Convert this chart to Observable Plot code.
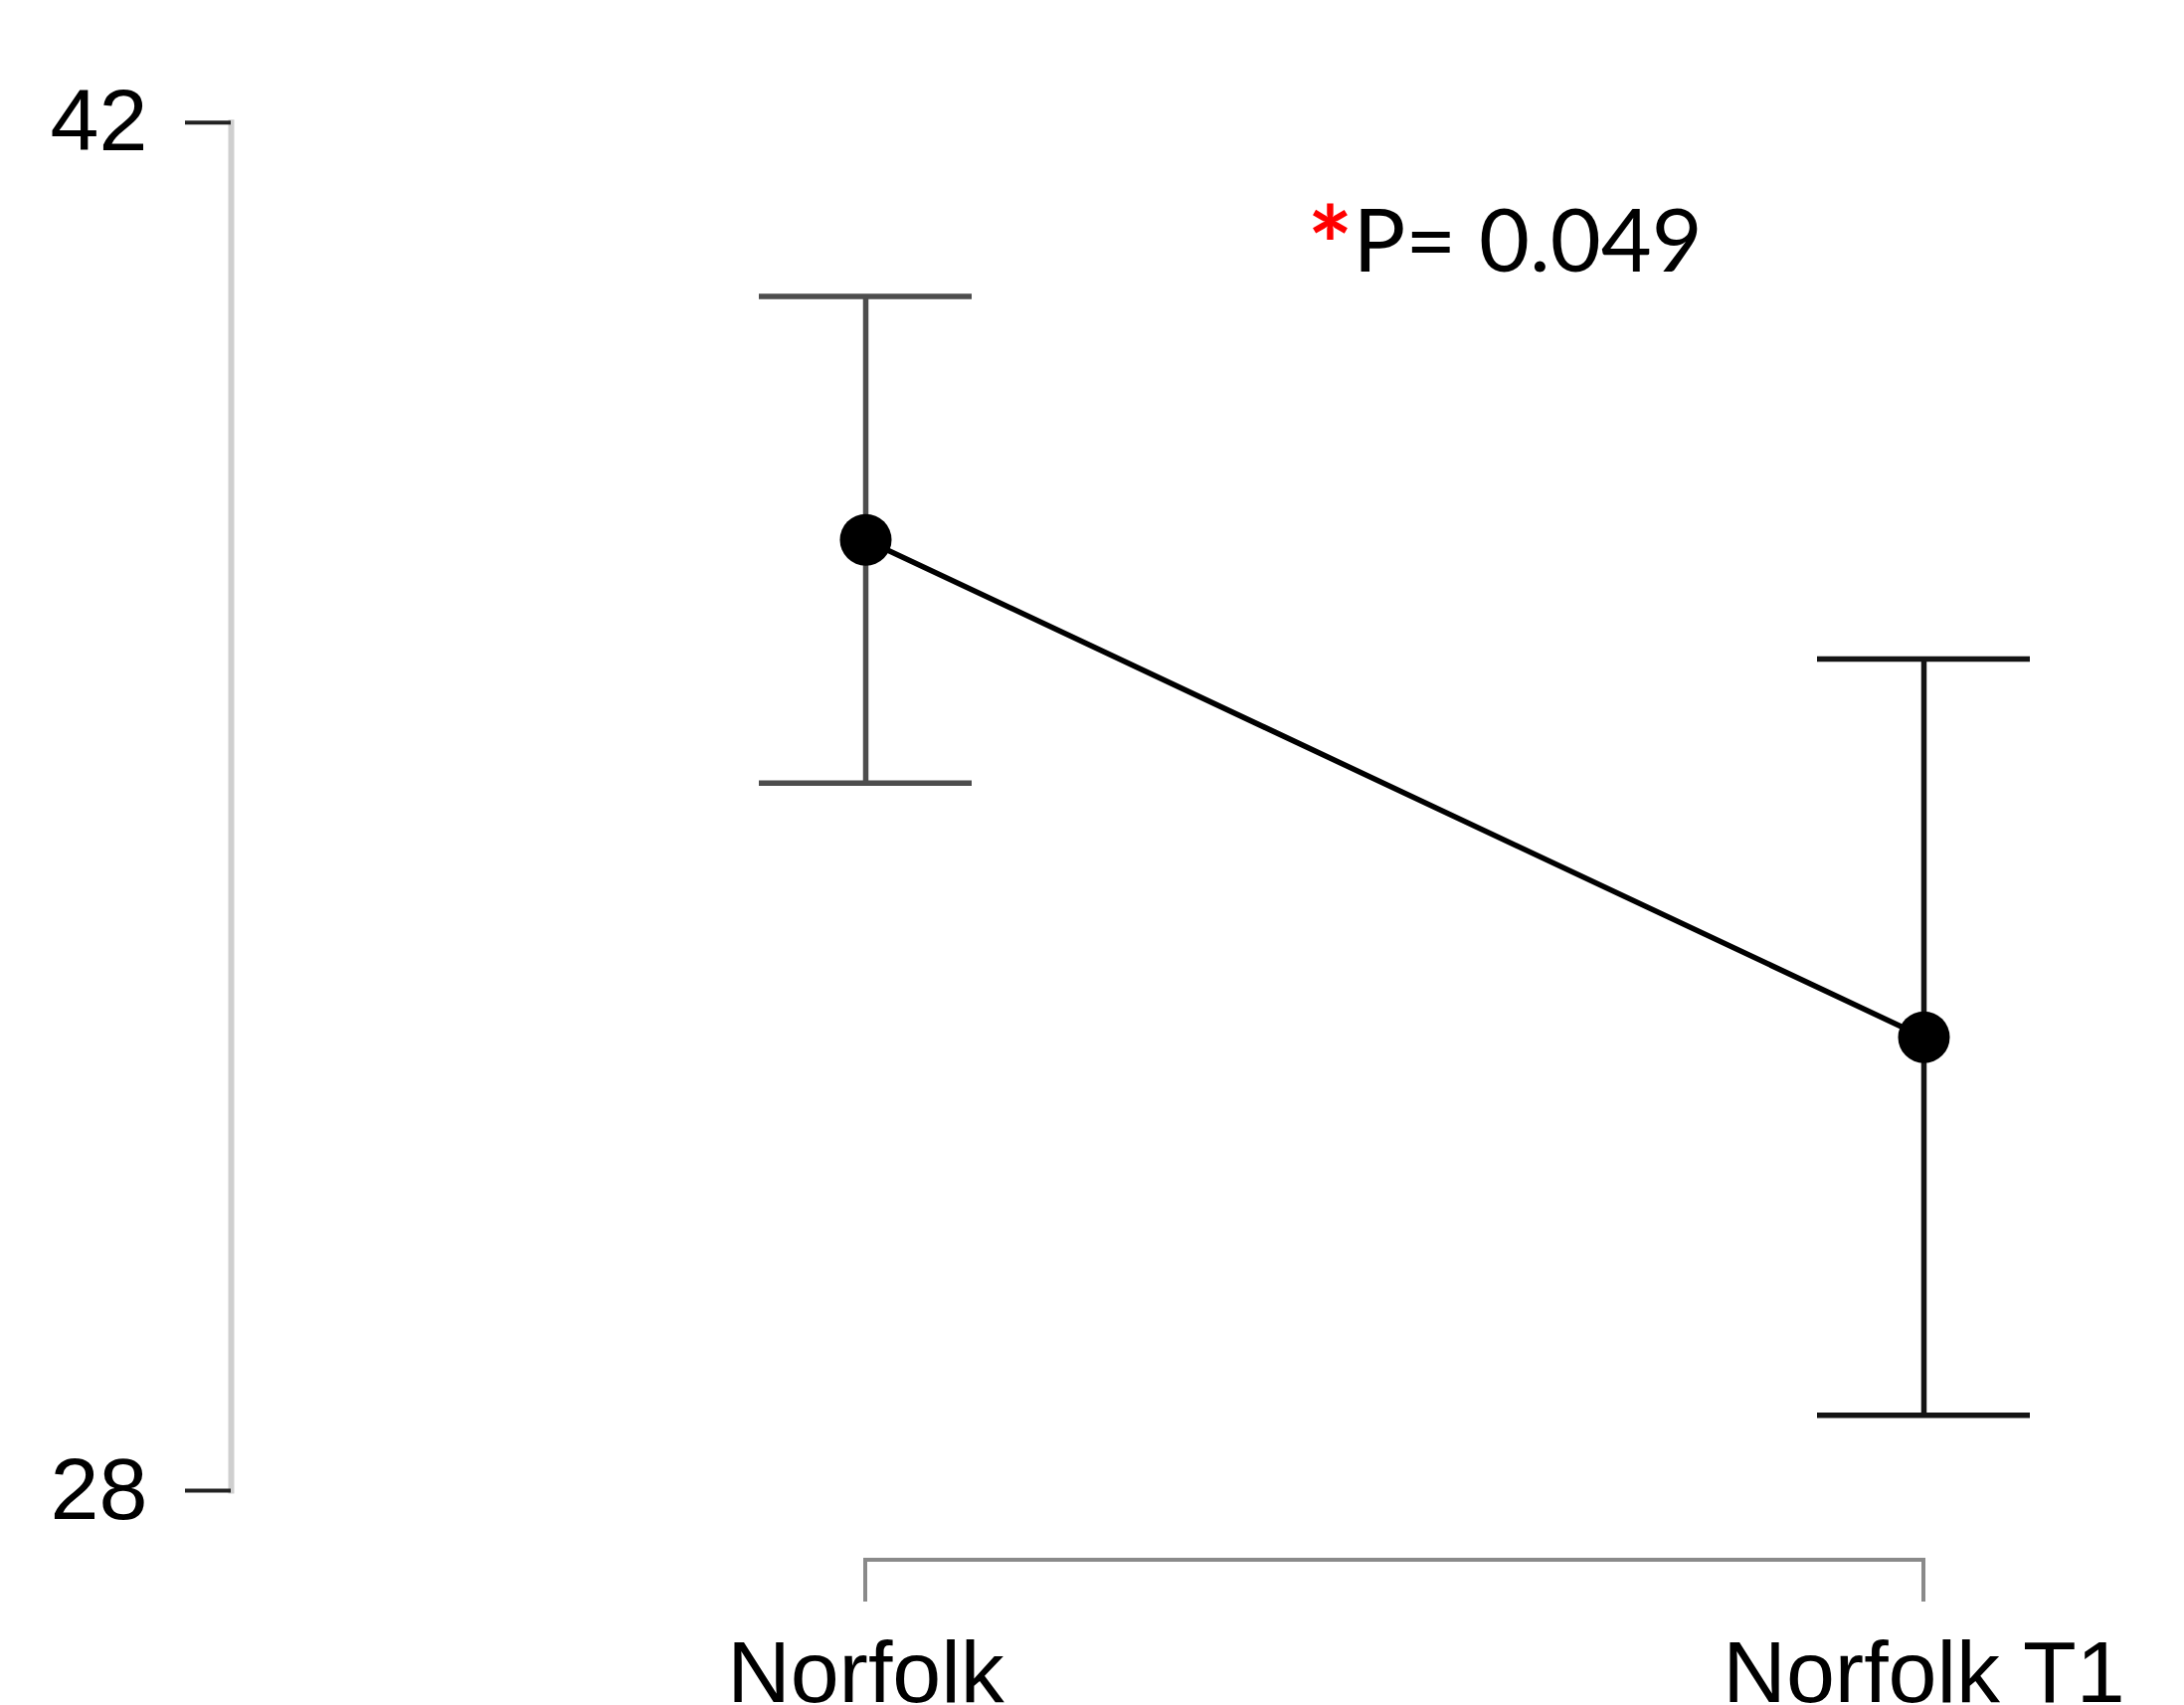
<!DOCTYPE html>
<html>
<head>
<meta charset="utf-8">
<script src="https://cdn.jsdelivr.net/npm/d3@7"></script>
<script src="https://cdn.jsdelivr.net/npm/@observablehq/plot@0.6"></script>
<style>
  html, body { margin: 0; padding: 0; background: #fff; }
  #chart svg { display: block; }
</style>
</head>
<body>
<div id="chart"></div>
<script>
// ---- data ----
const categories = ["Norfolk", "Norfolk T1"];
const means = [37.73, 32.64];
const errors = [2.49, 3.87];
const yTicks = [28, 42];
const annotationStar = "*";
const annotationText = "P= 0.049";

const rows = categories.map((c, i) => ({cat: c, mean: means[i], lo: means[i] - errors[i], hi: means[i] + errors[i]}));
const barStroke = d => d.cat === categories[0] ? "#4d4d4d" : "#141414";

const W = 2196, H = 1714;
const chart = Plot.plot({
  width: W,
  height: H,
  marginLeft: 232,
  marginRight: 262,
  marginTop: 122.7,
  marginBottom: 216,
  style: {fontFamily: "'Liberation Sans', Arial, sans-serif", fontSize: "88px", background: "#fff", color: "#000"},
  x: {type: "point", domain: categories, range: [870, 1934], padding: 0, axis: null, label: null},
  y: {domain: [28, 42], axis: null, label: null},
  marks: [
    Plot.frame({anchor: "left", stroke: "#cfcfcf", strokeWidth: 6}),
    Plot.axisY({ticks: yTicks, tickSize: 46, tickPadding: 38, stroke: "#222", strokeWidth: 4, fontSize: 88, label: null, tickFormat: d => String(d)}),
    Plot.axisX({tickSize: 0, tickPadding: 150, fontSize: 88, label: null}),
    Plot.ruleX(rows, {x: "cat", y1: "lo", y2: "hi", stroke: barStroke, strokeWidth: 5.5}),
    Plot.ruleY(rows, {x1: "cat", x2: "cat", y: "hi", stroke: barStroke, strokeWidth: 5.5, insetLeft: -107, insetRight: -107}),
    Plot.ruleY(rows, {x1: "cat", x2: "cat", y: "lo", stroke: barStroke, strokeWidth: 5.5, insetLeft: -107, insetRight: -107}),
    Plot.line(rows, {x: "cat", y: "mean", stroke: "#000", strokeWidth: 5.5}),
    Plot.dot(rows, {x: "cat", y: "mean", r: 26, fill: "#000", stroke: "none"}),
    Plot.text([annotationStar], {text: d => d, frameAnchor: "top-left", textAnchor: "start", lineAnchor: "middle", dx: 1082, dy: 128, fill: "#ff0000", fontSize: 108, fontWeight: "bold", fontFamily: "Lato, 'Open Sans', sans-serif"}),
    Plot.text([annotationText], {text: d => d, frameAnchor: "top-left", textAnchor: "start", lineAnchor: "middle", dx: 1128, dy: 122, fill: "#000", fontSize: 88, fontFamily: "Lato, 'Open Sans', sans-serif"})
  ]
});

// x-axis bracket drawn from the plot's own scales
const xs = chart.scale("x"), ys = chart.scale("y");
const x0 = xs.apply(categories[0]), x1 = xs.apply(categories[categories.length - 1]);
const yb = ys.apply(ys.domain[0]) + 70;
d3.select(chart).append("path")
  .attr("d", `M${x0},${yb + 42}V${yb}H${x1}V${yb + 42}`)
  .attr("fill", "none").attr("stroke", "#8a8a8a").attr("stroke-width", 4);

document.getElementById("chart").appendChild(chart);
</script>
</body>
</html>
